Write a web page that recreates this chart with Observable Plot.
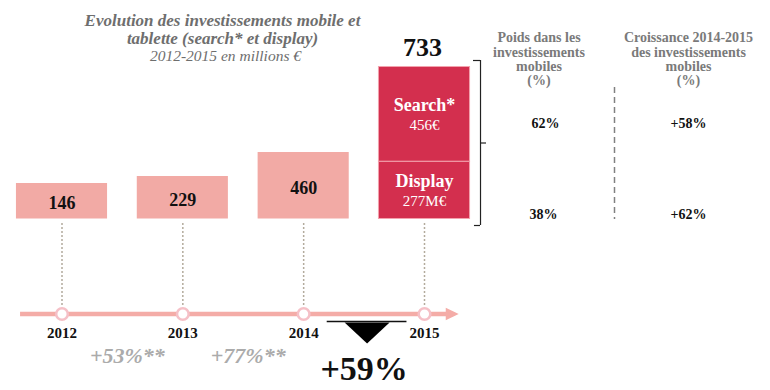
<!DOCTYPE html>
<html>
<head>
<meta charset="utf-8">
<script src="https://cdn.jsdelivr.net/npm/d3@7"></script>
<script src="https://cdn.jsdelivr.net/npm/@observablehq/plot@0.6"></script>
<style>
  html, body { margin: 0; padding: 0; background: #fff; }
  #chart { width: 770px; height: 390px; }
</style>
</head>
<body>
<div id="chart"></div>
<script>
// ---- data ----
const years = [2012, 2013, 2014, 2015];
const totals = [146, 229, 460, 733];
const segments2015 = ["Display", "Search*"];
const segmentValues2015 = [277, 456];
const segmentLabels2015 = ["277M€", "456€"];
const growthLabels = ["+53%**", "+77%**", "+59%"];
const titleLines = ["Evolution des investissements mobile et", "tablette (search* et display)"];
const subtitle = "2012-2015 en millions €";
const shareHeader = ["Poids dans les", "investissements", "mobiles", "(%)"];
const growthHeader = ["Croissance 2014-2015", "des investissements", "mobiles", "(%)"];
const shares = ["62%", "38%"];            // search, display
const segmentGrowth = ["+58%", "+62%"];   // search, display

// ---- scales ----
const xOpts = {type: "linear", domain: [years[0], years[3]], range: [61.5, 424]};
const yOpts = {type: "linear",
  domain: [0, totals[0], totals[1], segmentValues2015[0], totals[2], totals[3]],
  range: [218.5, 183, 176, 161.2, 152, 66.5]};
const xScale = Plot.scale({x: xOpts});
const yScale = Plot.scale({y: yOpts});
const midVal = (a, b) => yScale.invert((yScale.apply(a) + yScale.apply(b)) / 2);

const hw = 0.377;
const histData = years.slice(0, 3).map((year, i) => ({year, value: totals[i]}));
let acc = 0;
const segData = segments2015.map((name, i) => {
  const start = acc; acc += segmentValues2015[i];
  return {year: years[3], name, value: segmentValues2015[i], label: segmentLabels2015[i], start, end: acc};
});
const growthData = growthLabels.map((label, i) => ({x: years[i] + 0.5, label}));

const serif = "Georgia, 'Liberation Serif', 'DejaVu Serif', serif";
const pink = "#f2aaa5";
const red = "#d32f4e";
const gray = "#7a7a7a";

const flatTri = {draw(ctx, size) {
  const r = Math.sqrt(size / Math.PI);
  ctx.moveTo(-r, -0.42 * r); ctx.lineTo(r, -0.42 * r); ctx.lineTo(0, 0.51 * r); ctx.closePath();
}};
const arrowHead = {draw(ctx, size) {
  const r = Math.sqrt(size / Math.PI);
  ctx.moveTo(-0.85 * r, -0.9 * r); ctx.lineTo(r, 0); ctx.lineTo(-0.85 * r, 0.9 * r); ctx.closePath();
}};
const bracketX = years[3] + 0.4635;

const chart = Plot.plot({
  width: 770, height: 390,
  marginTop: 0, marginRight: 0, marginBottom: 0, marginLeft: 0,
  x: {...xOpts, axis: null},
  y: {...yOpts, axis: null},
  style: {fontFamily: serif, background: "#fff", overflow: "visible"},
  marks: [
    // title
    Plot.text([titleLines.join("\n")], {frameAnchor: "top-left", dx: 222, dy: 29, textAnchor: "middle", lineAnchor: "middle",
      lineHeight: 1.07, fontSize: 17, fontWeight: "bold", fontStyle: "italic", fill: "#6e6e6e"}),
    Plot.text([subtitle], {frameAnchor: "top-left", dx: 225, dy: 56, textAnchor: "middle", lineAnchor: "middle",
      fontSize: 15.5, fontStyle: "italic", fill: "#6e6e6e"}),

    // dashed connectors
    Plot.ruleX(years, {x: d => d, insetTop: 223, insetBottom: 83, stroke: "#b3ab9d", strokeWidth: 1.5, strokeDasharray: "2,2"}),

    // bars 2012-2014
    Plot.rectY(histData, {x1: d => d.year - hw, x2: d => d.year + hw, y1: () => 0, y2: "value", fill: pink}),
    Plot.text(histData, {x: "year", y: d => midVal(0, d.value), text: d => String(d.value), dy: 2,
      fontSize: 18, fontWeight: "bold", fill: "#111"}),

    // 2015 stacked bar
    Plot.rectY(segData, {x1: d => d.year - hw, x2: d => d.year + hw, y1: "start", y2: "end", fill: red, stroke: "#f3a2ad", strokeWidth: 1}),
    Plot.text(segData, {x: "year", y: d => midVal(d.start, d.end), text: "name", dy: -9,
      fontSize: 18, fontWeight: "bold", fill: "#fff"}),
    Plot.text(segData, {x: "year", y: d => midVal(d.start, d.end), text: "label", dy: 10.5,
      fontSize: 15, fill: "#fff"}),
    Plot.text([totals[3]], {x: () => years[3], y: d => d, text: d => String(d), dy: -19, dx: -2,
      fontSize: 26, fontWeight: "bold", fill: "#111"}),

    // bracket
    Plot.ruleX([bracketX], {x: d => d, insetTop: 60, insetBottom: 165, stroke: "#222", strokeWidth: 1.2}),
    Plot.ruleY([totals[3]], {y: d => d, x1: () => bracketX - 0.058, x2: () => bracketX, dy: -6.5, stroke: "#222", strokeWidth: 1.2}),
    Plot.ruleY([0], {y: d => d, x1: () => bracketX - 0.05, x2: () => bracketX, dy: 6.5, stroke: "#222", strokeWidth: 1.2}),
    Plot.ruleY([midVal(0, totals[3])], {y: d => d, x1: () => bracketX, x2: () => bracketX + 0.05, stroke: "#222", strokeWidth: 1.2}),

    // table on the right
    Plot.text([shareHeader.join("\n")], {frameAnchor: "top-left", dx: 538.5, dy: 58.7, textAnchor: "middle", lineAnchor: "middle",
      lineHeight: 1.03, fontSize: 14, fontWeight: "bold", fill: gray}),
    Plot.text([growthHeader.join("\n")], {frameAnchor: "top-left", dx: 688, dy: 58.7, textAnchor: "middle", lineAnchor: "middle",
      lineHeight: 1.03, fontSize: 14, fontWeight: "bold", fill: gray}),
    Plot.ruleX([xScale.invert(614)], {x: d => d, insetTop: 87, insetBottom: 171, stroke: "#808080", strokeWidth: 1.5, strokeDasharray: "6,4"}),
    Plot.text([shares[0]], {frameAnchor: "top-left", dx: 545, dy: 123, textAnchor: "middle", lineAnchor: "middle", fontSize: 14, fontWeight: "bold", fill: "#111"}),
    Plot.text([segmentGrowth[0]], {frameAnchor: "top-left", dx: 688, dy: 123, textAnchor: "middle", lineAnchor: "middle", fontSize: 14, fontWeight: "bold", fill: "#111"}),
    Plot.text([shares[1]], {frameAnchor: "top-left", dx: 543, dy: 214, textAnchor: "middle", lineAnchor: "middle", fontSize: 14, fontWeight: "bold", fill: "#111"}),
    Plot.text([segmentGrowth[1]], {frameAnchor: "top-left", dx: 688, dy: 214, textAnchor: "middle", lineAnchor: "middle", fontSize: 14, fontWeight: "bold", fill: "#111"}),

    // timeline
    Plot.ruleY([0], {y: d => d, x1: () => years[0] - 0.343, x2: () => years[3] + 0.19, dy: 95, stroke: "#f4aca7", strokeWidth: 4.5}),
    Plot.dot([0], {x: () => years[3] + 0.225, y: d => d, dy: 95, r: 7, symbol: arrowHead, fill: "#f4aca7", stroke: "none"}),
    Plot.dot(years, {x: d => d, y: () => 0, dy: 95, r: 5.8, fill: "#fff", stroke: "#f5c0c7", strokeWidth: 2.5}),
    Plot.text(years, {x: d => d, y: () => 0, dy: 114.5, text: d => String(d), fontSize: 15, fontWeight: "bold", fill: "#111"}),

    // growth annotations
    Plot.text(growthData.slice(0, 2), {x: "x", y: () => 0, dy: 136.5, dx: 5, text: "label",
      fontSize: 22, fontWeight: "bold", fontStyle: "italic", fill: "#ababab"}),
    Plot.ruleY([0], {y: d => d, x1: () => growthData[2].x - 0.33, x2: () => growthData[2].x + 0.33, dx: 3, dy: 102.5, stroke: "#111", strokeWidth: 1.3}),
    Plot.dot([0], {x: () => growthData[2].x, y: d => d, dx: 3, dy: 113, r: 22.5, symbol: flatTri, fill: "#000", stroke: "none"}),
    Plot.text([growthData[2]], {x: "x", y: () => 0, dy: 150.5, text: "label",
      fontSize: 34, fontWeight: "bold", fill: "#111"})
  ]
});
document.getElementById("chart").appendChild(chart);
</script>
</body>
</html>
